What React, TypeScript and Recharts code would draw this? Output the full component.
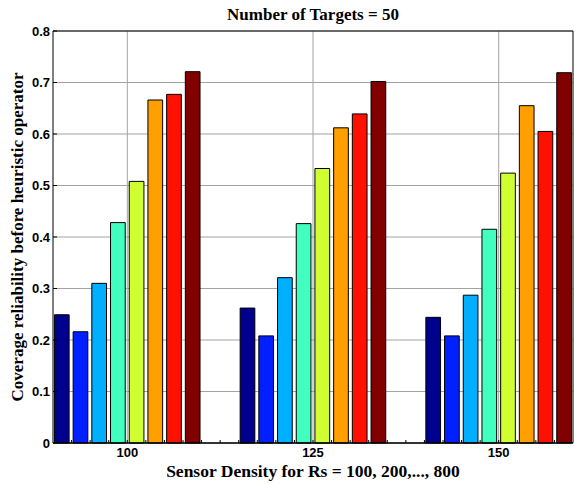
import { BarChart, Bar, XAxis, YAxis, CartesianGrid, ReferenceLine } from "recharts"

// sensor densities on the x axis
const densities = [100, 125, 150]

// coverage reliability per sensing range Rs (one value per density)
const rs100 = [0.249, 0.262, 0.244]
const rs200 = [0.216, 0.208, 0.208]
const rs300 = [0.31, 0.321, 0.287]
const rs400 = [0.428, 0.426, 0.415]
const rs500 = [0.508, 0.533, 0.524]
const rs600 = [0.666, 0.612, 0.655]
const rs700 = [0.677, 0.639, 0.605]
const rs800 = [0.721, 0.702, 0.719]

const seriesKeys = ["rs100", "rs200", "rs300", "rs400", "rs500", "rs600", "rs700", "rs800"]
const seriesValues = [rs100, rs200, rs300, rs400, rs500, rs600, rs700, rs800]
// jet colormap, 8 steps
const seriesColors = ["#00008f", "#0020ff", "#00afff", "#40ffbf", "#cfff30", "#ff9f00", "#ff1000", "#800000"]

const yTicks = [0, 0.1, 0.2, 0.3, 0.4, 0.5, 0.6, 0.7, 0.8]
const xMinorTicks = [
    92.5, 95, 97.5, 100, 102.5, 105, 107.5, 110, 112.5, 115, 117.5, 120, 122.5, 125, 127.5, 130, 132.5, 135, 137.5,
    140, 142.5, 145, 147.5, 150, 152.5, 155, 157.5,
]

const data = densities.map((d, i) => {
    const row: Record<string, number> = { density: d }
    seriesKeys.forEach((k, j) => {
        row[k] = seriesValues[j][i]
    })
    return row
})

const tickFont = { fontFamily: "'Liberation Sans', Arial, sans-serif", fontWeight: 700, fontSize: 13, fill: "#000" }
const titleFont = { fontFamily: "'Liberation Serif', 'Times New Roman', serif", fontWeight: 700, fontSize: 17, fill: "#000" }

export default function App() {
    return (
        <div style={{ position: "absolute", left: 0, top: 0, width: 574, height: 484, background: "#fff" }}>
            <BarChart
                width={574}
                height={484}
                data={data}
                margin={{ top: 30, right: 0, bottom: 0, left: 0 }}
                barGap={4}
                barCategoryGap={0}
            >
                <CartesianGrid stroke="#a3a3a3" strokeWidth={1} verticalValues={densities} horizontalValues={yTicks} />
                <XAxis
                    dataKey="density"
                    type="number"
                    domain={[90, 160]}
                    ticks={xMinorTicks}
                    interval={0}
                    tickFormatter={(v: number) => (densities.includes(v) ? String(v) : "")}
                    tickSize={-3}
                    tickMargin={8}
                    height={41}
                    stroke="#000"
                    tick={tickFont}
                    label={{
                        value: "Sensor Density for Rs = 100, 200,..., 800",
                        position: "insideBottom",
                        offset: 7,
                        style: { ...titleFont, fontSize: 17.5 },
                    }}
                />
                <XAxis
                    xAxisId="top"
                    orientation="top"
                    type="number"
                    domain={[90, 160]}
                    ticks={xMinorTicks}
                    interval={0}
                    tickFormatter={() => ""}
                    tickSize={-3}
                    height={1}
                    stroke="#000"
                    label={{ value: "Number of Targets = 50", position: "top", offset: 10, style: titleFont }}
                />
                <YAxis
                    domain={[0, 0.8]}
                    ticks={yTicks}
                    interval={0}
                    tickFormatter={(v: number) => String(v)}
                    tickSize={-4}
                    tickMargin={7}
                    width={53}
                    stroke="#000"
                    tick={tickFont}
                    label={{
                        value: "Coverage reliability before heuristic operator",
                        angle: -90,
                        position: "insideLeft",
                        offset: 17,
                        style: { ...titleFont, textAnchor: "middle" },
                    }}
                />
                <YAxis
                    yAxisId="right"
                    orientation="right"
                    domain={[0, 0.8]}
                    ticks={yTicks}
                    interval={0}
                    tickFormatter={() => ""}
                    tickSize={-4}
                    width={1}
                    stroke="#000"
                />
                {seriesKeys.map((k, j) => (
                    <Bar
                        key={k}
                        dataKey={k}
                        fill={seriesColors[j]}
                        stroke="#000"
                        strokeWidth={1}
                        barSize={14.7}
                        isAnimationActive={false}
                    />
                ))}
                <ReferenceLine y={0} stroke="#000" strokeWidth={1} />
            </BarChart>
        </div>
    )
}
